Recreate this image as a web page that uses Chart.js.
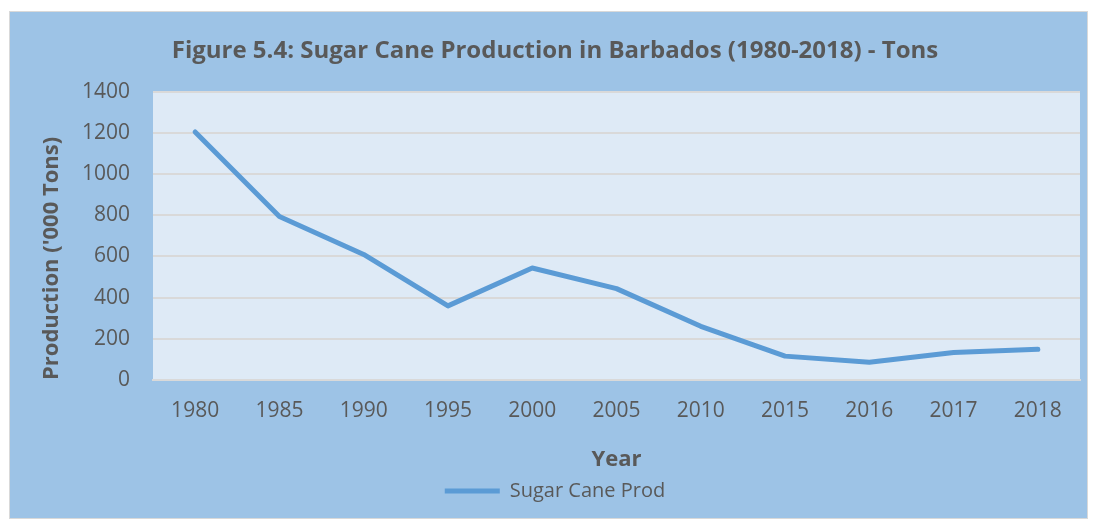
<!DOCTYPE html>
<html>
<head>
<meta charset="utf-8">
<script src="https://cdn.jsdelivr.net/npm/chart.js@4"></script>
<style>
  html, body { margin: 0; padding: 0; background: #fff; }
  #frame {
    position: absolute; left: 9px; top: 11px;
    width: 1077px; height: 506px;
    background: #9DC3E6; border: 1px solid #D9D9D9;
  }
  #frame canvas { display: block; }
</style>
</head>
<body>
<div id="frame"><canvas id="sugarChart" width="1077" height="506"></canvas></div>
<script>
'use strict'
const years = ['1980', '1985', '1990', '1995', '2000', '2005', '2010', '2015', '2016', '2017', '2018'];
const sugarCane = [1205, 794, 610, 360, 544, 444, 261, 116, 86, 134, 149];
const yTicks = [0, 200, 400, 600, 800, 1000, 1200, 1400];

const textColor = '#595959';
const fontFamily = "'Open Sans', 'Liberation Sans', sans-serif";

// fill the plot area like the excel chart
const plotBg = {
    id: 'plotBg',
    beforeDraw(chart) {
        const a = chart.chartArea;
        const ctx = chart.ctx;
        ctx.save();
        ctx.fillStyle = '#DEEAF6';
        ctx.fillRect(a.left, a.top, a.right - a.left, a.bottom - a.top);
        ctx.restore();
    }
};

const ctx = document.getElementById('sugarChart');
const sugarChart = new Chart(ctx, {
    type: 'line',
    data: {
        labels: years,
        datasets: [{
            label: 'Sugar Cane Prod',
            data: sugarCane,
            borderColor: '#5B9BD5',
            backgroundColor: '#5B9BD5',
            borderWidth: 5,
            pointRadius: 0,
            tension: 0,
            borderCapStyle: 'round',
            borderJoinStyle: 'round'
        }]
    },
    options: {
        responsive: false,
        animation: false,
        layout: { padding: { left: 20, right: 7, top: 0, bottom: 7 } },
        plugins: {
            title: {
                display: true,
                text: 'Figure 5.4: Sugar Cane Production in Barbados (1980-2018) - Tons',
                color: textColor,
                font: { family: fontFamily, size: 24, weight: 'bold' },
                padding: { top: 25, bottom: 26 }
            },
            legend: {
                position: 'bottom',
                labels: {
                    color: textColor,
                    font: { family: fontFamily, size: 20 },
                    usePointStyle: true,
                    pointStyle: 'line',
                    pointStyleWidth: 55,
                    padding: 6
                }
            },
            tooltip: { enabled: false }
        },
        scales: {
            x: {
                offset: true,
                afterFit(scale) { scale.height = 95; },
                grid: { display: false, drawTicks: false },
                border: { display: true, color: '#D9D9D9', width: 2 },
                ticks: { color: textColor, font: { family: fontFamily, size: 21 }, padding: 18, maxRotation: 0 },
                title: {
                    display: true, text: 'Year', color: textColor,
                    font: { family: fontFamily, size: 22, weight: 'bold' },
                    padding: { top: 0, bottom: 2 }
                }
            },
            y: {
                min: 0,
                max: 1400,
                afterBuildTicks(scale) { scale.ticks = yTicks.map(v => ({ value: v })); },
                afterFit(scale) { scale.width = 123; },
                grid: { color: '#D9D9D9', lineWidth: 2, drawTicks: false },
                border: { display: false },
                ticks: {
                    color: textColor, font: { family: fontFamily, size: 21 }, padding: 23,
                    callback: (value) => String(value)
                },
                title: {
                    display: true, text: "Production ('000 Tons)", color: textColor,
                    align: 'start',
                    font: { family: fontFamily, size: 22, weight: 'bold' },
                    padding: { top: 9, bottom: 0 }
                }
            }
        }
    },
    plugins: [plotBg]
});
</script>
</body>
</html>
